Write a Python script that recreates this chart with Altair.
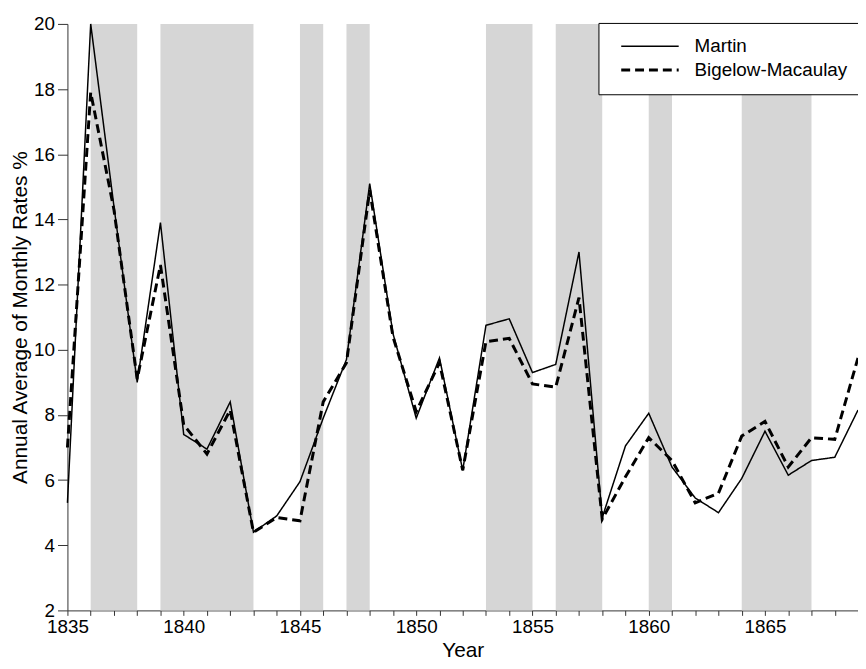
import altair as alt
import pandas as pd

# ---- data ----
years = list(range(1835, 1870))
martin = [5.3, 20.0, 14.4, 9.0, 13.9, 7.4, 6.95, 8.4, 4.4, 4.9,
          5.95, 7.9, 9.7, 15.1, 10.5, 7.9, 9.75, 6.3, 10.75, 10.95,
          9.3, 9.55, 13.0, 4.85, 7.05, 8.05, 6.4, 5.45, 5.0, 6.05,
          7.5, 6.15, 6.6, 6.7, 8.15]
bigelow = [7.0, 17.9, 14.3, 9.1, 12.6, 7.7, 6.8, 8.15, 4.4, 4.85,
           4.75, 8.4, 9.6, 14.9, 10.4, 8.1, 9.6, 6.3, 10.25, 10.35,
           8.95, 8.85, 11.6, 4.8, 6.1, 7.3, 6.6, 5.3, 5.6, 7.35,
           7.8, 6.4, 7.3, 7.25, 9.75]
series_names = ["Martin", "Bigelow-Macaulay"]
rec_start = [1836, 1839, 1845, 1847, 1853, 1856, 1860, 1864]
rec_end = [1838, 1843, 1846, 1848, 1855, 1858, 1861, 1867]
y_ticks = [2, 4, 6, 8, 10, 12, 14, 16, 18, 20]

df = pd.DataFrame({
    "Year": years + years,
    "Rate": martin + bigelow,
    "Series": [series_names[0]] * len(years) + [series_names[1]] * len(years),
})
bands = pd.DataFrame({"start": rec_start, "end": rec_end})

FONT = "Liberation Sans"
AX = "#333333"

x_scale = alt.Scale(domain=[1835, 1869], nice=False, zero=False)
y_scale = alt.Scale(domain=[2, 20], nice=False, zero=False)

x_axis = alt.Axis(
    values=years, format="d",
    labelExpr="datum.value % 5 == 0 ? datum.label : ''",
    labelOverlap=False, labelFlush=False,
    tickSize=5, tickColor=AX, domainColor=AX, grid=False,
    labelFont=FONT, labelFontSize=19, labelColor="black", labelPadding=2,
    title="Year", titleFont=FONT, titleFontSize=21, titleFontWeight="normal",
    titleColor="black", titlePadding=4,
)
y_axis = alt.Axis(
    values=y_ticks, format="d",
    tickSize=10, tickColor=AX, domainColor=AX, grid=False,
    labelFont=FONT, labelFontSize=19, labelColor="black", labelPadding=3,
    title="Annual Average of Monthly Rates %", titleFont=FONT, titleFontSize=21,
    titleFontWeight="normal", titleColor="black", titlePadding=3,
)

legend = alt.Legend(
    orient="none", legendX=536, legendY=-1,
    fillColor="white", strokeColor="black", padding=14,
    symbolType="M-0.1,0H11.5", symbolSize=100, symbolStrokeColor="black",
    labelFont=FONT, labelFontSize=19, labelColor="black", labelOffset=64,
    rowPadding=4,
)

band_layer = alt.Chart(bands).mark_rect(color="#d6d6d6").encode(
    x=alt.X("start:Q", scale=x_scale, axis=x_axis),
    x2="end:Q",
)

line_layer = alt.Chart(df).mark_line(color="black").encode(
    x=alt.X("Year:Q", scale=x_scale, axis=x_axis),
    y=alt.Y("Rate:Q", scale=y_scale, axis=y_axis),
    strokeDash=alt.StrokeDash(
        "Series:N", title=None,
        scale=alt.Scale(domain=series_names, range=[[1, 0], [9, 5]]),
        legend=legend,
    ),
    strokeWidth=alt.StrokeWidth(
        "Series:N", title=None,
        scale=alt.Scale(domain=series_names, range=[1.5, 3]),
        legend=legend,
    ),
)

chart = alt.layer(band_layer, line_layer).properties(
    width=798,
    height=592,
    autosize=alt.AutoSizeParams(type="none"),
    padding={"left": 60, "top": 13, "right": 0, "bottom": 48},
    background="white",
).configure_view(strokeWidth=0)

chart.save("out.html", embed_options={"renderer": "svg", "actions": False})
